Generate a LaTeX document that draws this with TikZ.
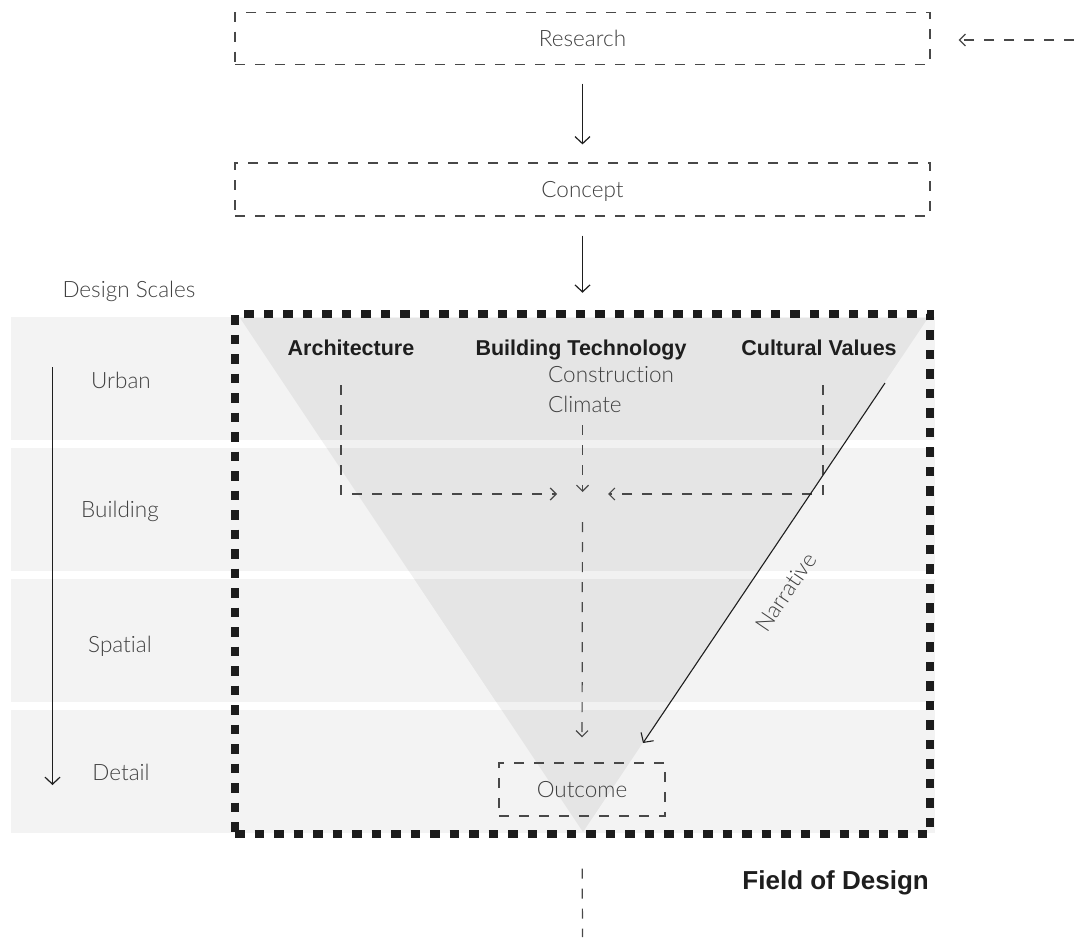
\documentclass[tikz,border=0pt]{standalone}
\usepackage{fontspec}
\setmainfont{Liberation Sans}
\newfontfamily\lightfont{Lato Light}[Ligatures={NoCommon,NoRare,NoContextual}]
\usetikzlibrary{arrows.meta}
\definecolor{ink}{HTML}{1E1E1E}
\definecolor{greytext}{HTML}{404040}
\definecolor{dashcol}{HTML}{484848}
\definecolor{bandcol}{HTML}{F3F3F3}
\definecolor{bordercol}{HTML}{1C1C1C}
\tikzset{
  lt/.style={font=\lightfont\fontsize{22.5}{25}\selectfont, text=greytext, inner sep=0pt},
  bd/.style={font=\bfseries\fontsize{21.5}{24}\selectfont, text=ink, inner sep=0pt},
  dline/.style={draw=dashcol, line width=1.2pt, dash pattern=on 10pt off 10pt},
  dbox/.style={lt, draw=dashcol, line width=1.2pt, dash pattern=on 10pt off 10pt,
    text height=16pt, text depth=0pt},
  sline/.style={draw=ink, line width=1.2pt},
  barb/.style={-{Straight Barb[length=7pt,width=15pt]}},
  sbarb/.style={-{Straight Barb[length=6pt,width=12pt]}},
  dotborder/.style={draw=bordercol, line width=8.5pt, dash pattern=on 9.5pt off 10pt},
  band/.style={fill=bandcol, draw=none},
}
\begin{document}
\begin{tikzpicture}[x=1pt, y=-1pt]
\useasboundingbox (0,0) rectangle (1074,947);
\fill[white] (0,0) rectangle (1074,947);

% bands
\fill[band] (11,317) rectangle (935,440);
\fill[band] (11,448) rectangle (935,571);
\fill[band] (11,579) rectangle (935,702);
\fill[band] (11,710) rectangle (935,833);

% triangle
\fill[black, fill opacity=0.055] (240,318) -- (928,318) -- (583,832) -- cycle;

% field border
\node[dotborder, minimum width=695pt, minimum height=520pt, inner sep=0pt] (field) at (582.5,574) {};

% boxes
\node[dbox, minimum width=695pt, minimum height=51.3pt] (research) at (582.5,38.5) {Research};
\node[dbox, minimum width=695pt, minimum height=53pt] (concept) at (582.5,189.5) {Concept};
\node[dbox, minimum width=166pt, minimum height=53pt] (outcome) at (582,789.5) {Outcome};

% solid arrows between boxes
\draw[sline, barb, shorten <=19pt, shorten >=18pt] (research.south) -- (concept.north);
\draw[sline, barb, shorten <=19pt, shorten >=17pt] (concept.south) -- (field.north);

% incoming dashed arrow at right
\coordinate (rin) at (1074,40);
\draw[dline, sbarb, shorten >=28pt] (rin) -- (research.east |- rin);

% design scales
\node[lt, anchor=base] (ds) at (129,297) {Design Scales};
\node[lt, anchor=base] (urban) at (121,388) {Urban};
\node[lt, anchor=base] (building) at (120,517) {Building};
\node[lt, anchor=base] (spatial) at (120,652) {Spatial};
\node[lt, anchor=base] (detail) at (121,780) {Detail};
\coordinate (s1) at (52.5,367);
\coordinate (s2) at (52.5,785);
\draw[sline, barb] (s1) -- (s2);

% headers
\node[bd, anchor=base] (arch) at (351,355) {Architecture};
\node[bd, anchor=base] (btech) at (581,355) {Building Technology};
\node[bd, anchor=base] (cult) at (819,355) {Cultural Values};
\node[lt, anchor=base west] (constr) at (548,382) {Construction};
\node[lt, anchor=base west] (climate) at (548,412) {Climate};

% dashed flows
\coordinate (merge) at (582.5,494);
\coordinate (a1) at (341,385);
\coordinate (b1) at (582.5,425);
\coordinate (c1) at (823,385);
\draw[dline, sbarb, shorten >=25.5pt] (a1) |- (merge);
\draw[dline, sbarb, shorten >=25.5pt] (c1) |- (merge);
\draw[dline, sbarb, shorten >=2pt] (b1) -- (merge);
\draw[dline, sbarb, shorten <=28pt, shorten >=25pt] (merge) -- (outcome.north);
\coordinate (bottom) at (582.5,937);
\draw[dline, shorten <=52pt] (outcome.south) -- (bottom);

% narrative
\coordinate (n1) at (885,383);
\coordinate (n2) at (643,743);
\draw[sline, line width=1.1pt, barb] (n1) -- (n2);
\node[lt, rotate=56] (narr) at (786,592) {Narrative};

% field label
\node[bd, font=\bfseries\fontsize{26}{30}\selectfont, anchor=base east] (fod) at (929,889) {Field of Design};
\end{tikzpicture}
\end{document}
